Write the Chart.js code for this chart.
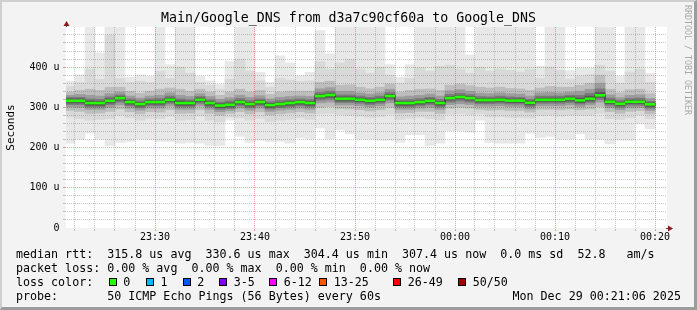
<!DOCTYPE html>
<html>
<head>
<meta charset="utf-8">
<script src="https://cdn.jsdelivr.net/npm/chart.js@4.4.1/dist/chart.umd.min.js"></script>
<style>
html,body{margin:0;padding:0;background:#f3f3f3;}
#wrap{position:relative;width:697px;height:310px;overflow:hidden;background:#f3f3f3;font-family:'DejaVu Sans Mono',monospace;color:#000;}
#c{position:absolute;left:0;top:0;}
#frame{position:absolute;left:0;top:0;width:697px;height:310px;box-sizing:border-box;border-top:2px solid #cfcfcf;border-left:2px solid #cfcfcf;border-right:3px solid #9c9c9c;border-bottom:3px solid #9c9c9c;pointer-events:none;}
.row{position:absolute;left:16px;font-size:11.66px;line-height:14px;white-space:pre;}
.abs{position:absolute;font-size:11.66px;line-height:14px;white-space:pre;}
.box{position:absolute;top:278px;width:6px;height:6px;border:1px solid #000;}
#rrd{position:absolute;left:683px;top:5px;writing-mode:vertical-rl;font-size:8.3px;line-height:10px;color:#a8a8a8;white-space:pre;}
</style>
</head>
<body>
<div id="wrap">
<canvas id="c" width="697" height="310"></canvas>
<div id="rrd">RRDTOOL / TOBI OETIKER</div>
<div class="row" style="top:247px">median rtt:  315.8 us avg  330.6 us max  304.4 us min  307.4 us now  0.0 ms sd  52.8   am/s</div>
<div class="row" style="top:261px">packet loss: 0.00 % avg  0.00 % max  0.00 % min  0.00 % now</div>
<div class="row" style="top:275px">loss color:</div>
<div id="losslegend"></div>
<div class="row" style="top:289px">probe:       50 ICMP Echo Pings (56 Bytes) every 60s</div>
<div class="abs" style="top:289px;left:512.5px">Mon Dec 29 00:21:06 2025</div>
<div id="frame"></div>
</div>
<script>
// ---------- data ----------
const TITLE = 'Main/Google_DNS from d3a7c90cf60a to Google_DNS';

const columnTimes = [
 '23:21','23:22','23:23','23:24','23:25','23:26','23:27','23:28','23:29','23:30',
 '23:31','23:32','23:33','23:34','23:35','23:36','23:37','23:38','23:39','23:40',
 '23:41','23:42','23:43','23:44','23:45','23:46','23:47','23:48','23:49','23:50',
 '23:51','23:52','23:53','23:54','23:55','23:56','23:57','23:58','23:59','00:00',
 '00:01','00:02','00:03','00:04','00:05','00:06','00:07','00:08','00:09','00:10',
 '00:11','00:12','00:13','00:14','00:15','00:16','00:17','00:18','00:19'];

// median rtt per minute (microseconds)
const medianRtt = [
 316.3,316.3,310.6,310.6,316.3,323.0,313.1,308.1,313.1,313.1,
 318.8,310.6,310.6,318.8,310.6,304.4,306.4,313.1,308.1,313.1,
 305.6,308.1,310.6,313.1,310.6,328.0,330.6,321.3,321.3,318.8,
 316.3,318.8,328.0,310.6,310.6,313.1,316.3,310.6,323.0,325.9,
 323.0,318.1,318.1,318.8,316.8,316.8,311.3,318.8,318.8,318.8,
 321.3,317.3,321.3,329.8,313.8,308.9,313.8,313.8,307.4];

const pingMax = [
 365,381,500,435,500,500,375,381,377,500,
 406,500,500,377,366,357,414,500,500,387,
 362,428,410,379,387,491,433,500,500,500,
 500,500,406,375,406,500,500,500,500,500,
 430,500,500,500,500,500,500,402,500,500,
 391,398,398,500,500,378,500,500,385];

const pingMin = [
 211,220,236,221,205,213,215,221,220,215,
 215,211,213,211,205,205,268,228,213,218,
 215,215,211,224,221,249,222,244,234,221,
 221,218,218,213,232,232,205,211,242,242,
 238,268,213,211,211,211,235,225,228,221,
 221,234,221,220,209,218,218,259,247];

// smoke layers (upper ends), outer to inner
const hiA = [352,362,395,370,480,372,362,365,362,390, 372,400,385,362,355,345,370,420,390,366, 350,372,368,364,366,414,395,410,420,395, 385,400,380,360,372,398,390,402,405,395, 385,400,390,395,392,388,395,372,400,392, 370,378,382,405,390,360,388,395,362];
const hiB = [338,342,345,342,350,350,340,335,340,345, 348,345,340,345,338,330,338,345,338,342, 332,338,340,340,340,362,365,355,356,350, 346,350,358,338,342,345,346,342,355,358, 354,350,348,350,347,346,342,348,352,350, 350,355,360,380,345,336,344,345,334];
const hiC = [330,332,330,328,334,338,328,323,328,330, 336,330,327,334,327,320,324,330,325,329, 321,325,327,328,327,346,349,340,340,336, 333,336,345,326,328,330,333,328,341,344, 340,335,334,336,334,333,328,336,337,336, 338,340,345,360,331,324,330,331,322];
const hiD = [325,325,321,320,326,331,321,316,321,322, 328,321,319,327,319,313,316,322,317,321, 314,317,319,321,319,337,340,331,331,328, 325,328,337,319,320,322,325,320,332,335, 332,327,326,328,326,325,320,328,328,328, 330,330,335,346,323,317,322,323,315];
const hiE = [321,321,316,315,321,327,317,312,317,317, 323,316,315,323,315,309,311,317,312,317, 310,312,315,317,315,332,335,326,326,323, 321,323,332,315,315,317,321,315,327,330, 327,322,322,323,321,321,316,323,323,323, 326,323,328,337,318,313,318,318,311];
const hiF = [318,318,313,312,318,325,315,310,315,315, 321,313,312,321,312,306,308,315,310,315, 307,310,312,315,312,330,332,323,323,321, 318,321,330,312,312,315,318,312,325,328, 325,320,320,321,319,319,313,321,321,321, 323,319,324,332,316,311,316,316,309];
// smoke layers (lower ends), inner to outer
const loF = [314,314,308,308,314,321,311,306,311,311, 317,308,308,317,308,302,304,311,306,311, 303,306,308,311,308,326,328,319,319,317, 314,317,326,308,308,311,314,308,321,324, 321,316,316,317,315,315,309,317,317,317, 319,315,319,328,312,307,312,312,305];
const loE = [311,311,305,305,311,318,308,303,308,308, 314,305,305,314,305,299,301,308,303,308, 300,303,305,308,305,323,325,316,316,314, 311,314,323,305,305,308,311,305,318,321, 318,313,313,314,312,312,306,314,314,314, 316,312,316,325,309,304,309,309,302];
const loD = [307,307,301,301,307,313,304,299,304,304, 310,301,301,310,301,295,297,304,299,304, 296,299,301,304,301,318,320,312,312,310, 307,310,318,301,301,304,307,301,313,316, 313,309,309,310,308,308,302,310,310,310, 312,308,312,320,305,300,305,305,298];
const loC = [301,300,295,295,300,306,298,293,298,298, 304,295,295,304,295,289,292,298,293,298, 290,293,295,298,295,311,313,306,306,304, 301,304,311,295,295,298,300,295,307,309, 307,303,303,304,302,302,296,304,304,304, 306,302,306,313,299,294,299,300,292];
const loB = [292,290,285,286,290,296,289,284,289,288, 294,285,286,294,285,280,285,289,284,289, 281,284,286,289,286,300,302,297,296,294, 291,294,300,286,287,290,290,285,298,300, 298,295,293,294,292,292,288,295,295,294, 296,294,296,302,289,285,290,292,284];
const loA = [276,272,268,270,272,280,274,268,273,272, 278,268,270,278,268,264,276,274,268,273, 265,268,270,274,270,284,285,282,280,278, 275,277,283,270,273,276,272,269,283,285, 282,284,276,277,275,275,274,279,280,278, 280,280,280,285,272,270,274,281,272];

const xTickLabels = ['23:30','23:40','23:50','00:00','00:10','00:20'];
const yTickValues = [0,100,200,300,400];
const yTickLabels = ['0','100 u','200 u','300 u','400 u'];

const lossLabels = ['0','1','2','3-5','6-12','13-25','26-49','50/50'];
const lossColors = ['#26ff00','#00b8ff','#0059ff','#7e00ff','#ff00ff','#ff5500','#ff0000','#a10000'];

// ---------- helpers ----------
function toMin(s){ let h = +s.slice(0,2); const m = +s.slice(3); if (h < 12) h += 24; return (h - 23) * 60 + m; }
const colStart = columnTimes.map(toMin);
const colCenter = colStart.map(t => t + 0.5);
const xTickValues = xTickLabels.map(toMin);
const xGrid = []; for (let t = 22; t <= 80; t += 2) xGrid.push(t);

const FONT = "'DejaVu Sans Mono', monospace";
const GREEN_HALF = 2.5;

// loss legend boxes (HTML)
const lossX = [108.7,146,182.7,219.3,269.3,319.3,393.3,458.3];
const ll = document.getElementById('losslegend');
lossLabels.forEach((lab, i) => {
  const b = document.createElement('div'); b.className = 'box';
  b.style.left = lossX[i] + 'px'; b.style.background = lossColors[i]; ll.appendChild(b);
  const t = document.createElement('div'); t.className = 'abs';
  t.style.top = '275px'; t.style.left = (lossX[i] + 14.5) + 'px'; t.textContent = lab; ll.appendChild(t);
});

// ---------- datasets ----------
const layers = [
  {lo: pingMin, hi: pingMax, color: '#e8e8e8'},
  {lo: loA, hi: hiA, color: '#d9d9d9'},
  {lo: loB, hi: hiB, color: '#bdbdbd'},
  {lo: loC, hi: hiC, color: '#9c9c9c'},
  {lo: loD, hi: hiD, color: '#7a7a7a'},
  {lo: loE, hi: hiE, color: '#575757'},
  {lo: loF, hi: hiF, color: '#383838'}
];
const barCommon = {type: 'bar', grouped: false, barPercentage: 1, categoryPercentage: 1, borderWidth: 0};
const datasets = [];
datasets.push(Object.assign({}, barCommon, {
  label: 'median', order: 0, backgroundColor: lossColors[0],
  data: medianRtt.map((m, i) => ({x: colCenter[i], y: [m - GREEN_HALF, m + GREEN_HALF]}))
}));
const last = medianRtt.length - 1;
datasets.push({
  type: 'line', label: 'median line', order: 1, borderColor: '#202020', borderWidth: 1,
  pointRadius: 0, stepped: true, fill: false,
  data: medianRtt.map((m, i) => ({x: colStart[i], y: m})).concat([{x: colStart[last] + 1, y: medianRtt[last]}])
});
layers.forEach((L, k) => {
  datasets.push(Object.assign({}, barCommon, {
    label: 'smoke' + k, order: 8 - k, backgroundColor: L.color,
    data: L.lo.map((lo, i) => ({x: colCenter[i], y: [lo, L.hi[i]]}))
  }));
});

// ---------- plugins ----------
const canvasBg = {
  id: 'canvasBg',
  beforeDraw(chart) {
    const {ctx, chartArea: a} = chart;
    ctx.save(); ctx.fillStyle = '#ffffff';
    ctx.fillRect(a.left, a.top, a.right - a.left, a.bottom - a.top);
    ctx.restore();
  }
};
const axisArrows = {
  id: 'axisArrows',
  afterDraw(chart) {
    const {ctx, chartArea: a} = chart;
    const x0 = Math.floor(a.left) + 0.5, y0 = Math.floor(a.bottom) + 0.5;
    ctx.save();
    ctx.strokeStyle = '#404040'; ctx.lineWidth = 1;
    ctx.beginPath();
    ctx.moveTo(x0, a.top); ctx.lineTo(x0, a.top - 2);
    ctx.moveTo(a.right - 1, y0); ctx.lineTo(a.right + 2, y0);
    ctx.stroke();
    ctx.fillStyle = '#8b1a1a';
    ctx.beginPath(); ctx.moveTo(x0 - 3, a.top - 1); ctx.lineTo(x0 + 3, a.top - 1); ctx.lineTo(x0, a.top - 6); ctx.closePath(); ctx.fill();
    ctx.beginPath(); ctx.moveTo(a.right + 1, y0 - 3); ctx.lineTo(a.right + 1, y0 + 3); ctx.lineTo(a.right + 6, y0); ctx.closePath(); ctx.fill();
    ctx.restore();
  }
};

const MINOR = 'rgba(128,128,128,0.45)';
const MAJOR = 'rgba(230,0,0,0.38)';

new Chart(document.getElementById('c').getContext('2d'), {
  type: 'bar',
  data: {datasets},
  options: {
    responsive: false, animation: false, events: [],
    layout: {padding: {left: 0, right: 0, top: 0, bottom: 62}},
    plugins: {
      legend: {display: false}, tooltip: {enabled: false},
      title: {display: true, text: TITLE, color: '#000',
        font: {family: FONT, size: 13.25, weight: 'normal', lineHeight: 1.2},
        padding: {top: 11, bottom: 0}}
    },
    scales: {
      x: {
        type: 'linear', min: 21.1, max: 81.2, offset: false,
        grid: {offset: false, z: 1, drawTicks: true, tickLength: 3,
          color: c => (c.tick && c.tick.value % 10 === 0) ? MAJOR : MINOR},
        border: {display: true, color: '#202020', dash: [1, 1]},
        ticks: {autoSkip: false, maxRotation: 0, padding: 0, color: '#000',
          font: {family: FONT, size: 10},
          callback: v => { const k = xTickValues.indexOf(v); return k >= 0 ? xTickLabels[k] : ''; }},
        afterBuildTicks: s => { s.ticks = xGrid.map(v => ({value: v})); },
        afterFit: s => { s.height = 20; }
      },
      y: {
        type: 'linear', min: 0, max: 500,
        grid: {z: 1, drawTicks: true, tickLength: 3,
          color: c => { const v = c.tick ? c.tick.value : -1; if (v === 0 || v === 500) return 'rgba(0,0,0,0)'; return v % 100 === 0 ? MAJOR : MINOR; }},
        border: {display: true, color: '#505050', dash: [1, 1]},
        ticks: {stepSize: 20, autoSkip: false, padding: 3.5, color: '#000',
          font: {family: FONT, size: 10},
          callback: v => { const k = yTickValues.indexOf(v); return k >= 0 ? yTickLabels[k] : ''; }},
        title: {display: true, text: 'Seconds', color: '#000',
          font: {family: FONT, size: 11}, padding: {top: 4.5, bottom: 0}},
        afterFit: s => { s.width = 66; }
      },
      yRight: {
        type: 'linear', position: 'right', min: 0, max: 1,
        grid: {display: false}, border: {display: false}, ticks: {display: false},
        afterFit: s => { s.width = 30; }
      }
    }
  },
  plugins: [canvasBg, axisArrows]
});
</script>
</body>
</html>
